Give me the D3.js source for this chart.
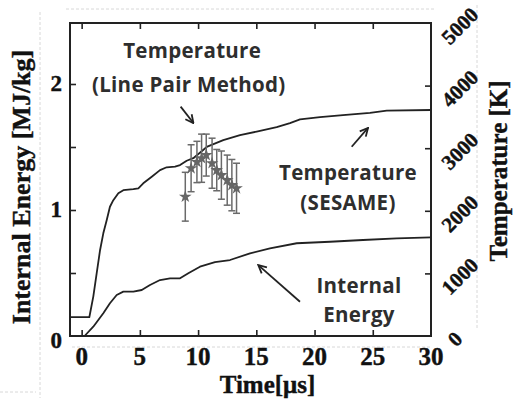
<!DOCTYPE html>
<html>
<head>
<meta charset="utf-8">
<script src="https://cdn.jsdelivr.net/npm/d3@7"></script>
<style>
  html, body { margin: 0; padding: 0; background: #fff; }
  svg { display: block; }
</style>
</head>
<body>
<svg id="chart" width="514" height="404"></svg>
<script>
// Temperature from the SESAME equation of state [K]
const tempTime = [-1, 0.66, 1.0, 1.29, 1.58, 1.86, 2.15, 2.43, 2.72, 3.15, 3.58, 4.44, 4.87, 5.29, 6.02, 6.73, 7.30, 8.02, 8.45, 9.02, 9.59, 10.74, 12.16, 13.60, 15.03, 16.75, 17.89, 18.75, 20.47, 22.44, 24.76, 26.20, 30];
const tempK = [300, 300, 630, 1000, 1370, 1640, 1850, 2065, 2170, 2280, 2330, 2345, 2360, 2440, 2545, 2650, 2695, 2705, 2730, 2800, 2840, 3020, 3130, 3210, 3265, 3335, 3400, 3460, 3495, 3530, 3565, 3600, 3610];

// Internal energy [MJ/kg]
const energyTime = [0.25, 1.0, 1.86, 2.43, 3.01, 3.58, 4.44, 5.16, 5.87, 6.73, 7.59, 8.45, 9.16, 10.16, 11.45, 12.74, 14.46, 16.17, 18.47, 21.33, 24.16, 27.05, 30];
const energy = [0, 0.074, 0.18, 0.26, 0.325, 0.352, 0.352, 0.365, 0.405, 0.444, 0.458, 0.458, 0.498, 0.55, 0.587, 0.603, 0.656, 0.696, 0.736, 0.748, 0.762, 0.775, 0.782];

// Line pair method measurements with error bars [K]
const lpTime = [8.9, 9.4, 9.9, 10.3, 10.7, 11.2, 11.6, 12.0, 12.5, 12.9, 13.3];
const lpTemp = [2225, 2680, 2780, 2840, 2890, 2760, 2650, 2570, 2490, 2410, 2360];
const lpErr = [390, 375, 330, 385, 335, 400, 330, 385, 400, 410, 400];

// Axis ticks
const timeTicks = [0, 5, 10, 15, 20, 25, 30];
const energyTicks = [0, 1, 2];
const energyMinor = [0.5, 1.5];
const tempTicks = [0, 1000, 2000, 3000, 4000, 5000];

const svg = d3.select("#chart");
const L = 70, R = 431, T = 23, B = 336;

const x = d3.scaleLinear().domain([-1, 30]).range([L, R]);
const yE = d3.scaleLinear().domain([0, 2.484]).range([B, T]);
const yT = d3.scaleLinear().domain([0, 5000]).range([B, T]);

const serif = "'Liberation Serif', 'Times New Roman', serif";
const sans = "'Open Sans', Lato, sans-serif";

// faint scan guide lines around the figure
const faint = svg.append("g").attr("stroke", "#d8d8d8").attr("stroke-width", 1)
  .attr("stroke-dasharray", "3,2").attr("fill", "none");
faint.append("line").attr("x1", 66).attr("x2", 436).attr("y1", 9).attr("y2", 9);
faint.append("line").attr("x1", 40).attr("x2", 40).attr("y1", 12).attr("y2", 398);
faint.append("line").attr("x1", 477).attr("x2", 477).attr("y1", 5).attr("y2", 330);
faint.append("line").attr("x1", 72).attr("x2", 430).attr("y1", 347).attr("y2", 347);
faint.append("line").attr("x1", 0).attr("x2", 36).attr("y1", 392).attr("y2", 392);

// arrow marker
const defs = svg.append("defs");
defs.append("marker").attr("id", "arr").attr("viewBox", "0 0 10 10")
  .attr("refX", 9).attr("refY", 5).attr("markerWidth", 10).attr("markerHeight", 10)
  .attr("markerUnits", "userSpaceOnUse").attr("orient", "auto")
  .append("path").attr("d", "M1,1 L9,5 L1,9").attr("fill", "none")
  .attr("stroke", "#222").attr("stroke-width", 1.8);

// frame
svg.append("rect").attr("x", L).attr("y", T).attr("width", R - L).attr("height", B - T)
  .attr("fill", "none").attr("stroke", "#222").attr("stroke-width", 2);

// axes with inward ticks
const axisBottom = d3.axisBottom(x).tickValues(timeTicks.slice(0, -1)).tickSize(-6).tickFormat("");
const axisTop = d3.axisTop(x).tickValues(timeTicks.slice(0, -1)).tickSize(-6).tickFormat("");
const axisLeft = d3.axisLeft(yE).tickValues(energyTicks.slice(1).concat(energyMinor)).tickSize(-6).tickFormat("");
const axisRight = d3.axisRight(yT).tickValues(tempTicks.slice(1, -1)).tickSize(-6).tickFormat("");

function styleAxis(g) {
  g.select(".domain").remove();
  g.selectAll(".tick line").attr("stroke", "#222").attr("stroke-width", 1.6);
}
svg.append("g").attr("transform", `translate(0,${B})`).call(axisBottom).call(styleAxis);
svg.append("g").attr("transform", `translate(0,${T})`).call(axisTop).call(styleAxis);
svg.append("g").attr("transform", `translate(${L},0)`).call(axisLeft).call(styleAxis);
svg.append("g").attr("transform", `translate(${R},0)`).call(axisRight).call(styleAxis);

// heavy serif text used for ticks and titles
function heavy(sel, size) {
  sel.attr("font-family", serif).attr("font-weight", "bold").attr("font-size", size)
    .attr("fill", "#111").attr("stroke", "#111").attr("stroke-width", 0.4);
}

// tick labels
svg.append("g").selectAll("text").data(timeTicks).join("text")
  .attr("x", d => x(d)).attr("y", B + 29)
  .attr("text-anchor", "middle")
  .call(heavy, 25).text(d => d);

svg.append("g").selectAll("text").data(energyTicks).join("text")
  .attr("x", 62).attr("y", d => yE(d) + (d === 0 ? 12 : 7))
  .attr("text-anchor", "end")
  .call(heavy, 23).text(d => d);

svg.append("g").selectAll("text").data(tempTicks).join("text")
  .attr("transform", d => `translate(${d === 0 ? 455 : 460},${yT(d) + 3}) rotate(-45)`)
  .attr("text-anchor", "middle").attr("dominant-baseline", "central")
  .call(heavy, 21).text(d => d);

// axis titles
svg.append("text").attr("x", (L + R) / 2 + 17).attr("y", 393)
  .attr("text-anchor", "middle")
  .call(heavy, 25).text("Time[μs]");

svg.append("text").attr("transform", "translate(30,187) rotate(-90)")
  .attr("text-anchor", "middle")
  .call(heavy, 26).text("Internal Energy [MJ/kg]");

svg.append("text").attr("transform", "translate(507,171) rotate(-90)")
  .attr("text-anchor", "middle")
  .call(heavy, 25).text("Temperature [K]");

// curves
const tempLine = d3.line().x(d => x(d[0])).y(d => yT(d[1]));
const energyLine = d3.line().x(d => x(d[0])).y(d => yE(d[1]));

svg.append("path").datum(d3.zip(tempTime, tempK))
  .attr("d", tempLine).attr("fill", "none")
  .attr("stroke", "#222").attr("stroke-width", 1.8).attr("stroke-linejoin", "round");

svg.append("path").datum(d3.zip(energyTime, energy))
  .attr("d", energyLine).attr("fill", "none")
  .attr("stroke", "#222").attr("stroke-width", 1.8).attr("stroke-linejoin", "round");

// line pair measurements: error bars and star markers
const lp = d3.zip(lpTime, lpTemp, lpErr);
const eb = svg.append("g").attr("stroke", "#6a6a6a").attr("stroke-width", 1.5).attr("fill", "none");
eb.selectAll("line.v").data(lp).join("line").attr("class", "v")
  .attr("x1", d => x(d[0])).attr("x2", d => x(d[0]))
  .attr("y1", d => yT(d[1] + d[2])).attr("y2", d => yT(d[1] - d[2]));
eb.selectAll("line.t").data(lp).join("line").attr("class", "t")
  .attr("x1", d => x(d[0]) - 3.5).attr("x2", d => x(d[0]) + 3.5)
  .attr("y1", d => yT(d[1] + d[2])).attr("y2", d => yT(d[1] + d[2]));
eb.selectAll("line.b").data(lp).join("line").attr("class", "b")
  .attr("x1", d => x(d[0]) - 3.5).attr("x2", d => x(d[0]) + 3.5)
  .attr("y1", d => yT(d[1] - d[2])).attr("y2", d => yT(d[1] - d[2]));

const star = d3.symbol().type(d3.symbolStar).size(50);
svg.append("g").selectAll("path").data(lp).join("path")
  .attr("transform", d => `translate(${x(d[0])},${yT(d[1])})`)
  .attr("d", star).attr("fill", "#666");

// annotations
const notes = [
  { t: 9.49, e: 2.206, text: "Temperature" },
  { t: 9.2, e: 1.937, text: "(Line Pair Method)" },
  { t: 22.87, e: 1.238, text: "Temperature" },
  { t: 22.87, e: 1.0, text: "(SESAME)" },
  { t: 23.82, e: 0.34, text: "Internal" },
  { t: 23.82, e: 0.11, text: "Energy" }
];
svg.append("g").selectAll("text").data(notes).join("text")
  .attr("x", d => x(d.t)).attr("y", d => yE(d.e))
  .attr("text-anchor", "middle")
  .attr("font-family", sans).attr("font-weight", "bold").attr("font-size", 20.5)
  .attr("letter-spacing", 0.3)
  .attr("fill", "#2e2e2e").text(d => d.text);

const arrows = [
  { t0: 8.5, e0: 1.82, t1: 9.6, e1: 1.69 },
  { t0: 23.19, e0: 1.502, t1: 24.59, e1: 1.651 },
  { t0: 18.75, e0: 0.272, t1: 15.17, e1: 0.563 }
];
svg.append("g").selectAll("line").data(arrows).join("line")
  .attr("x1", d => x(d.t0)).attr("y1", d => yE(d.e0))
  .attr("x2", d => x(d.t1)).attr("y2", d => yE(d.e1))
  .attr("stroke", "#222").attr("stroke-width", 1.8)
  .attr("marker-end", "url(#arr)");
</script>
</body>
</html>
